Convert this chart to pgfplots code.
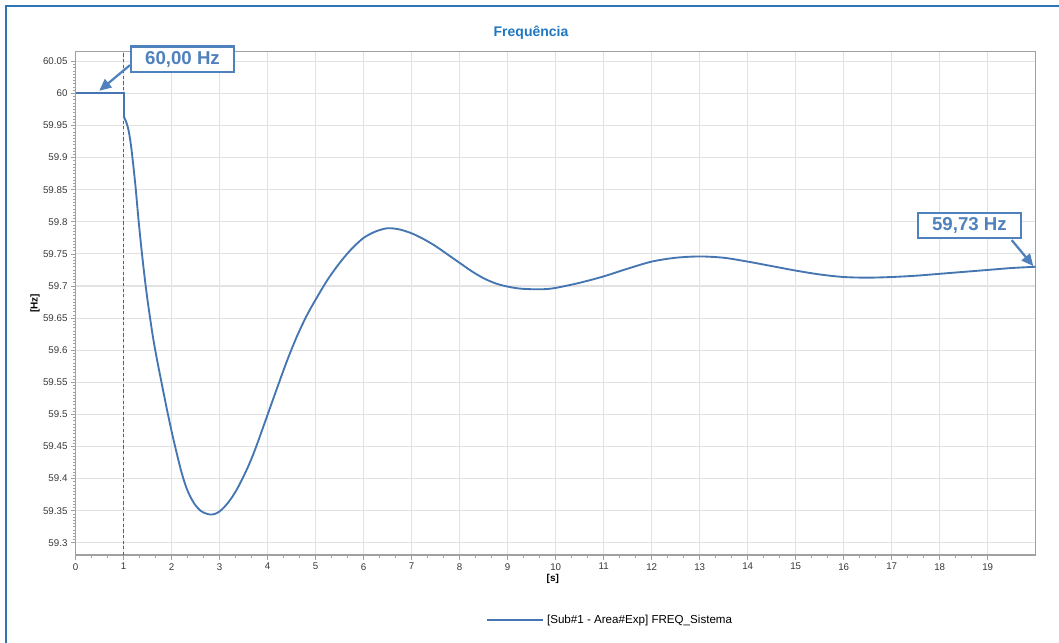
\documentclass[border=0pt]{standalone}
\usepackage{fontspec}
\setmainfont{Liberation Sans}
\usepackage{pgfplots}
\pgfplotsset{compat=1.18}
\usetikzlibrary{arrows.meta}
\definecolor{curvecol}{RGB}{70,118,178}
\definecolor{annot}{RGB}{79,129,189}
\definecolor{titlecol}{RGB}{31,119,193}
\definecolor{gridcol}{RGB}{226,226,226}
\definecolor{axiscol}{RGB}{160,160,160}
\definecolor{framecol}{RGB}{46,117,182}
\definecolor{eventcol}{RGB}{215,45,45}
\definecolor{tickcol}{RGB}{55,55,55}
\begin{document}
\begin{tikzpicture}[x=0.75pt,y=0.75pt]
\path[use as bounding box] (-75.7,-87) rectangle (983.3,555);
\draw[framecol, line width=1pt] (-69.7,-90) -- (-69.7,549) -- (990,549);
\begin{axis}[
  at={(0,0)}, anchor=south west,
  scale only axis, width=720pt, height=377.5pt,
  xmin=0, xmax=20, ymin=59.281, ymax=60.065,
  xtick={0,1,...,19},
  ytick={59.3,59.35,59.4,59.45,59.5,59.55,59.6,59.65,59.7,59.75,59.8,59.85,59.9,59.95,60,60.05},
  minor x tick num=2, minor y tick num=9,
  /pgf/number format/fixed,
  /pgf/number format/assume math mode=true,
  tick pos=left, tick align=outside,
  major tick length=3.5pt, minor tick length=2pt,
  every tick/.style={axiscol, line width=0.5pt},
  axis line style={axiscol, line width=0.8pt},
  grid=major, major grid style={gridcol, line width=0.8pt},
  ticklabel style={font=\fontsize{7.3}{8}\selectfont, text=tickcol},
  xticklabel style={inner sep=1.5pt, yshift=-1pt},
  yticklabel style={inner sep=2.5pt},
  xlabel={[s]}, ylabel={[Hz]},
  every axis x label/.style={at={(axis description cs:0.497,-0.0477)}, anchor=center,
    font=\bfseries\fontsize{7.5}{8}\selectfont},
  every axis y label/.style={at={(axis description cs:-0.0424,0.5)}, rotate=90, anchor=center,
    font=\bfseries\fontsize{7.5}{8}\selectfont},
  clip=false,
  legend style={at={(axis description cs:0.4274,-0.1292)}, anchor=west, draw=none, fill=none,
    inner sep=0pt, font=\fontsize{8.7}{9}\selectfont, nodes={inner sep=2.2pt}},
  legend cell align=left,
  legend image code/.code={\draw[#1] (0pt,0pt) -- (42pt,0pt);},
]
\addplot[color=eventcol, line width=0.8pt, dash pattern=on 2.4pt off 1.8pt, forget plot] coordinates {(1,59.281) (1,60.065)};
\addplot[color=curvecol, line width=1.4pt, forget plot] coordinates {(0,60) (1,60) (1,59.964)};
\addplot[color=curvecol, line width=1.4pt, smooth, tension=0.5] coordinates {
(1,59.964) (1.05,59.956) (1.1,59.943) (1.15,59.92) (1.2,59.888) (1.25,59.852) (1.3,59.81)
(1.35,59.772) (1.4,59.737) (1.45,59.705) (1.5,59.676) (1.55,59.65) (1.6,59.625) (1.65,59.603)
(1.7,59.583) (1.8,59.545) (1.9,59.508) (2.0,59.473) (2.1,59.441) (2.2,59.411) (2.3,59.387)
(2.4,59.37) (2.5,59.358) (2.6,59.35) (2.7,59.346) (2.8,59.344) (2.9,59.345) (3.0,59.349)
(3.1,59.356) (3.2,59.365) (3.3,59.376) (3.4,59.389) (3.5,59.404) (3.6,59.42) (3.7,59.438)
(3.8,59.458) (3.9,59.479) (4.0,59.5) (4.2,59.542) (4.4,59.583) (4.6,59.62) (4.8,59.652)
(5.0,59.679) (5.25,59.71) (5.5,59.736) (5.75,59.758) (6.0,59.775) (6.25,59.785) (6.5,59.790)
(6.75,59.788) (7.0,59.782) (7.25,59.773) (7.5,59.762) (7.75,59.749) (8.0,59.736) (8.25,59.723)
(8.5,59.712) (8.75,59.704) (9.0,59.699) (9.25,59.696) (9.5,59.695) (9.75,59.695) (10.0,59.697)
(10.5,59.705) (11.0,59.715) (11.5,59.727) (12.0,59.738) (12.5,59.744) (13.0,59.746)
(13.5,59.744) (14.0,59.738) (14.5,59.731) (15.0,59.724) (15.5,59.718) (16.0,59.714)
(16.5,59.713) (17.0,59.714) (17.5,59.716) (18.0,59.719) (18.5,59.722) (19.0,59.725)
(19.5,59.728) (20.0,59.730)};
\addlegendentry{[Sub\#1 - Area\#Exp] FREQ\_Sistema}
\draw[annot, line width=1.7pt, -{Triangle[length=9pt,width=8pt]}] (axis cs:1.13,60.044) -- (axis cs:0.49,60.004);
\draw[annot, line width=1.7pt, -{Triangle[length=9pt,width=8pt]}] (axis cs:19.5,59.7715) -- (axis cs:19.95,59.731);
\node[draw=annot, fill=white, line width=1.7pt, text=annot, font=\bfseries\fontsize{14}{14}\selectfont,
  minimum width=77pt, minimum height=19pt, inner sep=0pt] at (axis cs:2.225,60.0534) {60,00 Hz};
\node[draw=annot, fill=white, line width=1.7pt, text=annot, font=\bfseries\fontsize{14}{14}\selectfont,
  minimum width=77pt, minimum height=19pt, inner sep=0pt] at (axis cs:18.62,59.794) {59,73 Hz};
\end{axis}
\node[text=titlecol, font=\bfseries\fontsize{10.5}{11}\selectfont] at (455.3,522) {Frequência};
\end{tikzpicture}
\end{document}
